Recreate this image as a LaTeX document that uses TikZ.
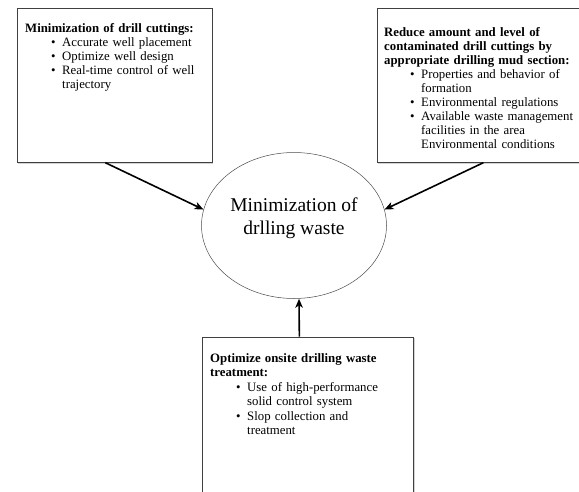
\documentclass[tikz,border=0pt]{standalone}
\usepackage{fontspec}
\setmainfont{Liberation Serif}
\usetikzlibrary{shapes.geometric,shadows,arrows.meta}

% one bullet line, wrapped lines hang under the text
\newcommand{\wastepoint}[1]{\par\noindent\hangindent=37pt\hangafter=1\hspace*{26pt}\makebox[11pt][l]{\textbullet}#1\par}

\begin{document}
\begin{tikzpicture}[x=1pt,y=-1pt,
  box/.style={draw=black!75,line width=0.7pt,fill=white,inner sep=0,anchor=north west,
    drop shadow={shadow xshift=1.3pt,shadow yshift=-1.3pt,opacity=0.35}},
  boxtext/.style={anchor=north west,inner sep=0,text width=#1,align=left,
    font=\fontsize{12.8}{14}\selectfont},
  push/.style={-{Stealth[length=9pt,width=7.5pt,inset=2.5pt]},line width=1.6pt}]
\useasboundingbox (0,0) rectangle (579,491);

% boxes
\node[box,minimum width=195pt,minimum height=154pt] (cutBox) at (16.5,8) {};
\node[box,minimum width=206pt,minimum height=154pt] (mudBox) at (376.5,8) {};
\node[box,minimum width=211pt,minimum height=170pt] (treatBox) at (202,336.5) {};
\node[draw=black!70,line width=0.5pt,ellipse,inner sep=0,
  minimum width=185pt,minimum height=146pt] (goal) at (294,225.5) {};

% texts
\node[boxtext=185pt] (cutText) at ([xshift=8.5pt,yshift=-15pt]cutBox.north west) {%
  \textbf{Minimization of drill cuttings:}
  \wastepoint{Accurate well placement}
  \wastepoint{Optimize well design}
  \wastepoint{Real-time control of well\newline trajectory}};
\node[boxtext=195pt] (mudText) at ([xshift=7.5pt,yshift=-19pt]mudBox.north west) {%
  \textbf{Reduce amount and level of\newline contaminated drill cuttings by\newline appropriate drilling mud section:}
  \wastepoint{Properties and behavior of\newline formation}
  \wastepoint{Environmental regulations}
  \wastepoint{Available waste management\newline facilities in the area\newline Environmental conditions}};
\node[boxtext=200pt,font=\fontsize{12.8}{14.4}\selectfont] (treatText)
  at ([xshift=8pt,yshift=-17pt]treatBox.north west) {%
  \textbf{Optimize onsite drilling waste\newline treatment:}
  \wastepoint{Use of high-performance\newline solid control system}
  \wastepoint{Slop collection and\newline treatment}};
\node[align=center,inner sep=0,font=\fontsize{19.5}{23}\selectfont] (goalText)
  at ([yshift=7pt]goal.center) {Minimization of\\drlling waste};

% arrows into the goal
\draw[push] ([xshift=-9pt]cutBox.south) -- (goal.170);
\draw[push] ([xshift=3.5pt]mudBox.south) -- (goal.10);
\draw[push] ([xshift=-8.5pt]treatBox.north) -- ([xshift=5pt]goal.south);
\end{tikzpicture}
\end{document}
